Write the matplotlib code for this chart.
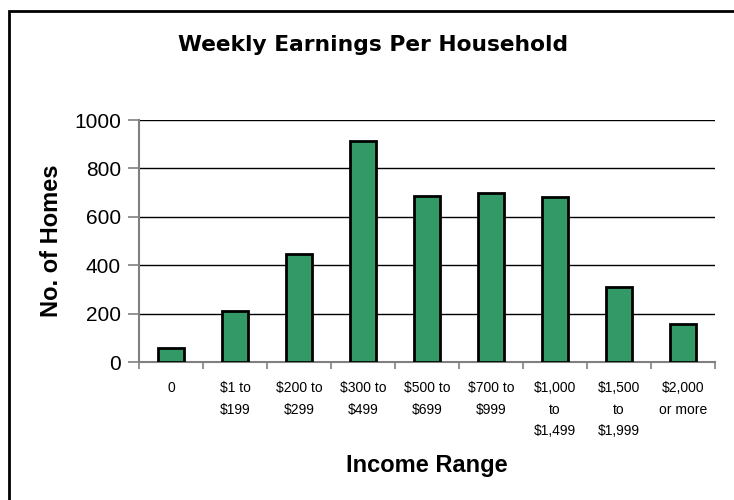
import matplotlib
matplotlib.use('Agg')
import numpy as np
from matplotlib import pyplot as plt
from matplotlib.patches import Rectangle

# data
categories = ['0', '$1 to\n$199', '$200 to\n$299', '$300 to\n$499', '$500 to\n$699',
              '$700 to\n$999', '$1,000\nto\n$1,499', '$1,500\nto\n$1,999', '$2,000\nor more']
homes = [58, 210, 447, 914, 684, 698, 680, 308, 159]
y_ticks = [0, 200, 400, 600, 800, 1000]

plt.rcParams['font.family'] = ['Liberation Sans', 'DejaVu Sans']

fig = plt.figure(figsize=(7.34, 5.0), dpi=100)
ax = fig.add_axes([139 / 734, 1 - 362 / 500, (715 - 139) / 734, (362 - 120) / 500])

x = np.arange(len(categories))
ax.bar(x, homes, width=0.4, color='#339966', edgecolor='black', linewidth=2, zorder=3)

ax.set_xlim(-0.5, len(categories) - 0.5)
ax.set_ylim(0, 1000)
ax.set_yticks(y_ticks)
ax.set_yticklabels([str(v) for v in y_ticks], fontsize=15)
ax.set_xticks(np.arange(len(categories) + 1) - 0.5, minor=True)
ax.set_xticks(x)
ax.set_xticklabels(categories, fontsize=10, linespacing=1.65, va='top',
                   family=['Liberation Sans Narrow', 'Liberation Sans'])
ax.tick_params(axis='x', which='major', length=0, pad=14)
ax.tick_params(axis='x', which='minor', length=5, color='#808080', width=1.2)
ax.tick_params(axis='y', length=8, color='#808080', width=1.2, pad=5)

ax.grid(axis='y', color='black', linewidth=1, zorder=0)
for s in ['top', 'right']:
    ax.spines[s].set_visible(False)
for s in ['left', 'bottom']:
    ax.spines[s].set_color('#808080')
    ax.spines[s].set_linewidth(1.5)

ax.set_ylabel('No. of Homes', fontsize=17, fontweight='bold', labelpad=8)
ax.set_xlabel('Income Range', fontsize=17, fontweight='bold', labelpad=12)
fig.text(373.5 / 734, 1 - 45 / 500, 'Weekly Earnings Per Household', ha='center', va='center',
         fontsize=15.7, fontweight='bold', family='DejaVu Sans')

# outer chart frame, cut off on the right and bottom
fig.patches.append(Rectangle((9 / 734, -0.1), 1.2, 1 - 11 / 500 + 0.1, transform=fig.transFigure,
                             fill=False, edgecolor='black', linewidth=2))

fig.savefig('out.png', dpi=100)
